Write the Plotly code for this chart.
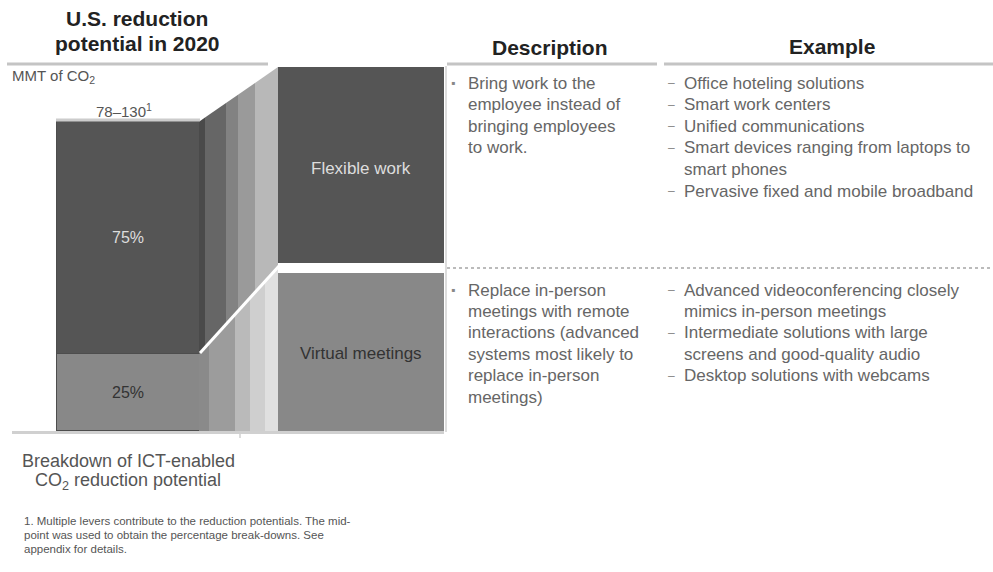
import plotly.graph_objects as go

# ---------------- data ----------------
levers = ["Virtual meetings", "Flexible work"]          # stacked bottom -> top
shares = [25, 75]                                         # % of ICT-enabled CO2 reduction potential
lever_colors = ["#888888", "#555555"]
lever_text_colors = ["#333333", "#dddddd"]
total_label = "78–130<sup>1</sup>"
unit_label = "MMT of CO<sub>2</sub>"
title_lines = ["U.S. reduction", "potential in 2020"]
caption_lines = ["Breakdown of ICT-enabled", "CO<sub>2</sub> reduction potential"]
footnote_lines = ["1. Multiple levers contribute to the reduction potentials. The mid-",
                  "point was used to obtain the percentage break-downs. See",
                  "appendix for details."]

desc_flex = [["Bring work to the", "employee instead of", "bringing employees", "to work."]]
ex_flex = [["Office hoteling solutions"], ["Smart work centers"], ["Unified communications"],
           ["Smart devices ranging from laptops to", "smart phones"],
           ["Pervasive fixed and mobile broadband"]]
desc_virt = [["Replace in-person", "meetings with remote", "interactions (advanced",
              "systems most likely to", "replace in-person", "meetings)"]]
ex_virt = [["Advanced videoconferencing closely", "mimics in-person meetings"],
           ["Intermediate solutions with large", "screens and good-quality audio"],
           ["Desktop solutions with webcams"]]

W, H = 993, 572
FONT = "Liberation Sans, Arial, sans-serif"

fig = go.Figure()

# stacked bar (left)
BAR_TOP, BAR_BOT = 121, 431
for name, val, col, tcol in zip(levers, shares, lever_colors, lever_text_colors):
    fig.add_trace(go.Bar(
        x=[128], y=[val], width=[143], name=name, xaxis="x", yaxis="y2",
        marker=dict(color=col, line=dict(color="#4d4d4d", width=1)),
        texttemplate="%{y:.0f}%", textposition="inside", insidetextanchor="middle",
        textfont=dict(family=FONT, size=16, color=tcol), hoverinfo="skip",
        showlegend=False))

shapes = []

def line(x0, y0, x1, y1, color="#c4c4c4", width=3, dash=None):
    d = dict(type="line", xref="x", yref="y", x0=x0, y0=y0, x1=x1, y1=y1,
             line=dict(color=color, width=width))
    if dash:
        d["line"]["dash"] = dash
    shapes.append(d)

def poly(pts, color):
    p = "M " + " L ".join(f"{x},{y}" for x, y in pts) + " Z"
    shapes.append(dict(type="path", xref="x", yref="y", path=p,
                       fillcolor=color, line=dict(width=0)))

# funnel strips
def top(x):
    return 121 + (x - 200) * (67 - 121) / 78.0

def diag(x):
    return 353 + (x - 200) * (266 - 353) / 78.0

upper = [(199, 205, "#4a4a4a"), (205, 226, "#666666"), (226, 238, "#828282"),
         (238, 255, "#9a9a9a"), (255, 278, "#b8b8b8")]
lower = [(199, 209, "#8a8a8a"), (209, 235, "#9c9c9c"), (235, 250, "#bababa"),
         (250, 265, "#cfcfcf"), (265, 278, "#e0e0e0")]
for a, b, c in upper:
    poly([(a, top(a)), (b, top(b)), (b, diag(b)), (a, diag(a))], c)
for a, b, c in lower:
    poly([(a, diag(a)), (b, diag(b)), (b, 431), (a, 431)], c)
line(200, 353, 279, 266, color="white", width=3)

# right boxes
shapes.append(dict(type="rect", xref="x", yref="y", x0=278, x1=444, y0=67, y1=263,
                   fillcolor="#555555", line=dict(width=0)))
shapes.append(dict(type="rect", xref="x", yref="y", x0=278, x1=444, y0=273, y1=431,
                   fillcolor="#888888", line=dict(width=0)))

# rules
line(7, 64, 268, 64)
line(447, 64, 657, 64)
line(664, 64, 993, 64)
line(56, 120, 200, 120, color="#cccccc", width=3)
line(12, 432.5, 444, 432.5, color="#d0d0d0", width=3)
line(240, 432, 240, 438, color="#d0d0d0", width=1.5)
line(446, 66, 446, 432, color="#dddddd", width=2)
line(447, 268, 993, 268, color="#bbbbbb", width=2, dash="dot")

ann = []

def text(x, y, s, size=17, color="#666666", xanchor="left", bold=False, yanchor="middle"):
    if bold:
        s = f"<b>{s}</b>"
    ann.append(dict(x=x, y=y, xref="x", yref="y", text=s, showarrow=False,
                    xanchor=xanchor, yanchor=yanchor, align="center" if xanchor == "center" else "left",
                    font=dict(family=FONT, size=size, color=color)))

for i, s in enumerate(title_lines):
    text(137, 18 + 25 * i, s, size=21, color="#222222", xanchor="center", bold=True)
text(550, 47, "Description", size=21, color="#222222", xanchor="center", bold=True)
text(832, 46, "Example", size=21, color="#222222", xanchor="center", bold=True)
text(10, 76, unit_label, size=15, color="#555555")
text(124, 110, total_label, size=15, color="#555555", xanchor="center")
text(361, 168, levers[1], size=17, color=lever_text_colors[1], xanchor="center")
text(361, 353, levers[0], size=17, color=lever_text_colors[0], xanchor="center")

for i, s in enumerate(caption_lines):
    text(128, 461 + 20 * i, s, size=18, color="#555555", xanchor="center")
for i, s in enumerate(footnote_lines):
    text(22, 521 + 14 * i, s, size=11.5, color="#555555")

def bullets(items, xb, xt, y0, step, mark):
    y = y0
    for item in items:
        text(xb, y, mark, size=12, color="#888888", xanchor="center")
        for ln in item:
            text(xt, y, ln)
            y += step

bullets(desc_flex, 453, 466, 83, 21.6, "▪")
bullets(ex_flex, 671, 682, 83, 21.6, "–")
bullets(desc_virt, 453, 466, 290, 21.4, "▪")
bullets(ex_virt, 671, 682, 290, 21.4, "–")

fig.update_layout(
    width=W, height=H, margin=dict(l=0, r=0, t=0, b=0),
    paper_bgcolor="white", plot_bgcolor="white",
    barmode="stack", bargap=0,
    xaxis=dict(range=[0, W], visible=False, fixedrange=True, domain=[0, 1]),
    yaxis=dict(range=[H, 0], visible=False, fixedrange=True, domain=[0, 1]),
    yaxis2=dict(range=[0, 100], visible=False, fixedrange=True, anchor="x",
                domain=[(H - BAR_BOT) / H, (H - BAR_TOP) / H]),
    shapes=shapes, annotations=ann,
)

fig.write_html("out.html", config={"displayModeBar": False},
               post_script="document.body.style.margin='0';document.body.style.overflow='hidden';")
